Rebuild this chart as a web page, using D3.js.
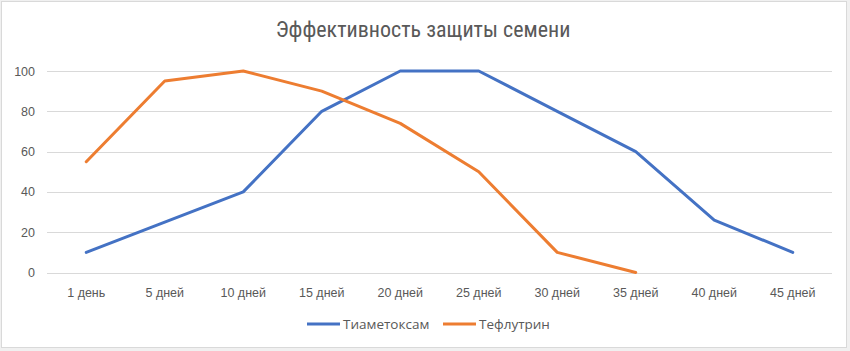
<!DOCTYPE html>
<html>
<head>
<meta charset="utf-8">
<script src="https://cdn.jsdelivr.net/npm/d3@7"></script>
<style>
  body { margin: 0; background: #f0f0f0; }
  text { font-family: "Liberation Sans", Arial, sans-serif; fill: #595959; }
  .title { font-family: "Liberation Sans Narrow", "Roboto Condensed", sans-serif; }
  .legend { font-family: "Open Sans", "Liberation Sans", sans-serif; }
</style>
</head>
<body>
<div id="dataviz"></div>
<script>
const categories = ["1 день", "5 дней", "10 дней", "15 дней", "20 дней", "25 дней", "30 дней", "35 дней", "40 дней", "45 дней"];
const thiamethoxam = [10, 25, 40, 80, 100, 100, 80, 60, 26, 10];
const tefluthrin = [55, 95, 100, 90, 74, 50, 10, 0];
const yTicks = [0, 20, 40, 60, 80, 100];
const seriesNames = ["Тиаметоксам", "Тефлутрин"];
const colors = ["#4472C4", "#ED7D31"];

var width = 850, height = 351;
var margin = {top: 71, right: 18, bottom: 79, left: 47};

var svg = d3.select("#dataviz")
  .append("svg")
    .attr("width", width)
    .attr("height", height);

// chart frame
svg.append("rect")
  .attr("x", 1.5).attr("y", 1.5)
  .attr("width", 845).attr("height", 346)
  .attr("fill", "white")
  .attr("stroke", "#d9d9d9");

svg.append("text")
  .attr("class", "title")
  .attr("x", 423)
  .attr("y", 37)
  .style("text-anchor", "middle")
  .style("font-size", "22px")
  .text("Эффективность защиты семени");

var x = d3.scaleBand()
  .domain(categories)
  .range([margin.left, 832]);

var y = d3.scaleLinear()
  .domain([0, 100])
  .range([272.5, margin.top]);

// gridlines
svg.append("g")
  .selectAll("line")
  .data(yTicks)
  .enter()
  .append("line")
    .attr("x1", margin.left)
    .attr("x2", 832)
    .attr("y1", d => Math.round(y(d)) + 0.5)
    .attr("y2", d => Math.round(y(d)) + 0.5)
    .attr("stroke", "#d9d9d9");

svg.append("g")
  .selectAll("text")
  .data(yTicks)
  .enter()
  .append("text")
    .attr("x", 35)
    .attr("y", d => y(d) + 4.5)
    .style("text-anchor", "end")
    .style("font-size", "12.5px")
    .text(d => d);

svg.append("g")
  .selectAll("text")
  .data(categories)
  .enter()
  .append("text")
    .attr("x", d => x(d) + x.bandwidth() / 2)
    .attr("y", 297)
    .style("text-anchor", "middle")
    .style("font-size", "12.5px")
    .text(d => d);

var line = d3.line()
  .x((d, i) => x(categories[i]) + x.bandwidth() / 2)
  .y(d => y(d));

[thiamethoxam, tefluthrin].forEach(function(data, i) {
  svg.append("path")
    .datum(data)
    .attr("d", line)
    .attr("fill", "none")
    .attr("stroke", colors[i])
    .attr("stroke-width", 3)
    .attr("stroke-linejoin", "round")
    .attr("stroke-linecap", "round");
});

// legend
var legendX = [307, 443];
seriesNames.forEach(function(name, i) {
  svg.append("line")
    .attr("x1", legendX[i]).attr("x2", legendX[i] + 33)
    .attr("y1", 324).attr("y2", 324)
    .attr("stroke", colors[i])
    .attr("stroke-width", 3);
  svg.append("text")
    .attr("class", "legend")
    .attr("x", legendX[i] + 36)
    .attr("y", 329)
    .style("font-size", "13.5px")
    .text(name);
});
</script>
</body>
</html>
